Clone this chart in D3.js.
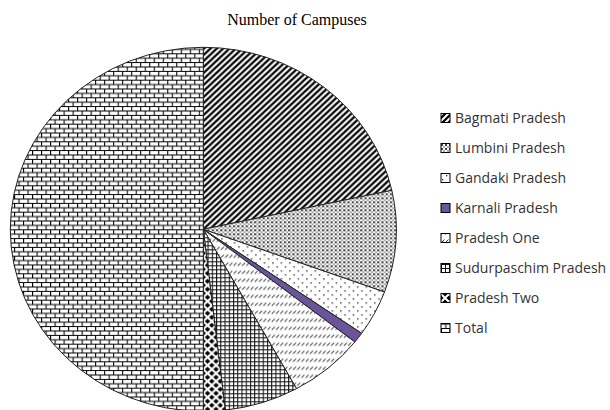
<!DOCTYPE html>
<html>
<head>
<meta charset="utf-8">
<script src="https://cdn.jsdelivr.net/npm/d3@7"></script>
<style>
html,body{margin:0;padding:0;background:#fff;}
</style>
</head>
<body>
<svg id="chart" width="610" height="410"></svg>
<script>
const categories = ["Bagmati Pradesh","Lumbini Pradesh","Gandaki Pradesh","Karnali Pradesh","Pradesh One","Sudurpaschim Pradesh","Pradesh Two","Total"];
const values = [618, 259, 117, 27, 182, 178, 52, 1433];
const patternIds = ["pBagmati","pLumbini","pGandaki","pKarnali","pOne","pSudur","pTwo","pTotal"];
const title = "Number of Campuses";

const svg = d3.select("#chart");
const defs = svg.append("defs");

function pat(id, w, h) {
  return defs.append("pattern").attr("id", id).attr("patternUnits","userSpaceOnUse")
    .attr("width", w).attr("height", h);
}
// Bagmati: thick diagonal stripes
let p = pat("pBagmati", 6, 6);
p.append("rect").attr("width",6).attr("height",6).attr("fill","#fff");
p.append("path").attr("d","M-1.5,1.5 L1.5,-1.5 M0,6 L6,0 M4.5,7.5 L7.5,4.5").attr("stroke","#000").attr("stroke-width",2.2);
// Lumbini: dense dots
p = pat("pLumbini", 4, 4);
p.append("rect").attr("width",4).attr("height",4).attr("fill","#fff");
p.append("rect").attr("x",0).attr("y",0).attr("width",2).attr("height",2).attr("fill","#444");
p.append("rect").attr("x",2).attr("y",2).attr("width",2).attr("height",2).attr("fill","#aaa");
// Gandaki: sparse dots
p = pat("pGandaki", 8, 8);
p.append("rect").attr("width",8).attr("height",8).attr("fill","#fff");
p.append("rect").attr("x",1).attr("y",1).attr("width",1.3).attr("height",1.3).attr("fill","#222");
p.append("rect").attr("x",5).attr("y",5).attr("width",1.3).attr("height",1.3).attr("fill","#222");
// Karnali: solid purple
p = pat("pKarnali", 4, 4);
p.append("rect").attr("width",4).attr("height",4).attr("fill","#6a559b");
// Pradesh One: rows of short slashes
p = pat("pOne", 4, 8);
p.append("rect").attr("width",4).attr("height",8).attr("fill","#fff");
p.append("path").attr("d","M0.6,4.5 L3.4,1.5").attr("stroke","#333").attr("stroke-width",1);
// Sudurpaschim: grid
p = pat("pSudur", 4, 4);
p.append("rect").attr("width",4).attr("height",4).attr("fill","#fff");
p.append("path").attr("d","M0,0.5 H4 M0.5,0 V4").attr("stroke","#111").attr("stroke-width",1);
// Pradesh Two: separated diamonds
p = pat("pTwo", 8, 8);
p.append("rect").attr("width",8).attr("height",8).attr("fill","#fff");
p.append("path").attr("d","M4,1.4 L6.6,4 L4,6.6 L1.4,4 Z").attr("fill","#000");
p.append("path").attr("d","M0,-2.6 L2.6,0 L0,2.6 L-2.6,0 Z M8,-2.6 L10.6,0 L8,2.6 L5.4,0 Z M0,5.4 L2.6,8 L0,10.6 L-2.6,8 Z M8,5.4 L10.6,8 L8,10.6 L5.4,8 Z").attr("fill","#000");
// Total: bricks
p = pat("pTotal", 8.5, 8.8);
p.append("rect").attr("width",8.5).attr("height",8.8).attr("fill","#fff");
p.append("path").attr("d","M0,0.5 H8.5 M0,4.9 H8.5 M0.5,0.5 V4.9 M4.75,4.9 V8.8").attr("stroke","#000").attr("stroke-width",1);

// Title
svg.append("text").attr("x",297).attr("y",25).attr("text-anchor","middle")
  .attr("font-family","'Liberation Serif', 'Times New Roman', serif").attr("font-size",16)
  .attr("fill","#000").text(title);

// Pie (slightly elliptical like the reference)
const cx = 203.3, cy = 229.3, ry = 182, rx = 193;
const pie = d3.pie().sort(null).value(d => d.v);
const arcs = pie(categories.map((c,i) => ({c, v: values[i], id: patternIds[i]})));
const arc = d3.arc().innerRadius(0).outerRadius(ry);
const g = svg.append("g").attr("transform",`translate(${cx},${cy}) scale(${rx/ry},1)`);
g.selectAll("path").data(arcs).join("path")
  .attr("d", arc)
  .attr("fill", d => `url(#${d.data.id})`)
  .attr("stroke", "#222")
  .attr("stroke-width", 1)
  .attr("vector-effect","non-scaling-stroke");

// Legend
const legY = d3.scalePoint().domain(categories).range([118, 328]);
const leg = svg.append("g");
const items = leg.selectAll("g").data(categories).join("g")
  .attr("transform", (d) => `translate(441,${legY(d)})`);
items.append("rect").attr("x",0).attr("y",-4.5).attr("width",9).attr("height",9)
  .attr("fill",(d,i)=>`url(#${patternIds[i]})`).attr("stroke","#000").attr("stroke-width",1);
items.append("text").attr("x",14).attr("y",0).attr("dy","0.35em")
  .attr("font-family","'Open Sans', sans-serif").attr("font-size",14).attr("fill","#333")
  .text(d => d);
</script>
</body>
</html>
